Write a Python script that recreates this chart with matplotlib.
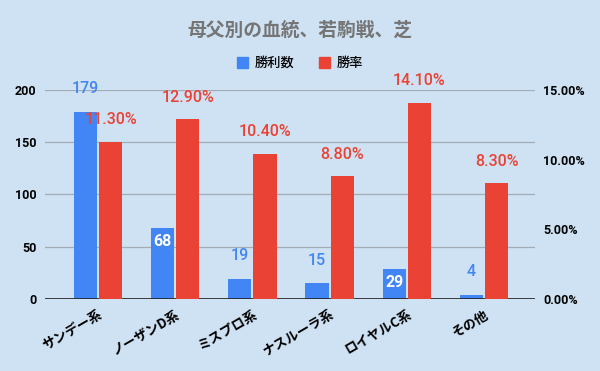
import numpy as np
import matplotlib.pyplot as plt
from matplotlib.ticker import FuncFormatter

plt.rcParams['font.family'] = ['Noto Sans CJK JP', 'DejaVu Sans']
num_font = ['Roboto', 'Noto Sans CJK JP']

categories = ['サンデー系', 'ノーザンD系', 'ミスプロ系', 'ナスルーラ系', 'ロイヤルC系', 'その他']
wins = [179, 68, 19, 15, 29, 4]
rates = [11.30, 12.90, 10.40, 8.80, 14.10, 8.30]
inside_labels = [False, True, False, False, True, False]

bg = '#cfe2f3'
blue = '#4285f4'
red = '#ea4335'

fig = plt.figure(figsize=(6, 3.71), dpi=100, facecolor=bg)
ax = fig.add_axes([45 / 600, 1 - 299 / 371, 490 / 600, 209 / 371])
ax.set_facecolor(bg)
ax2 = ax.twinx()

x = np.arange(len(categories))
w = 0.30
gap = 0.013
ax.bar(x - w / 2 - gap, wins, width=w, color=blue, zorder=3)
ax2.bar(x + w / 2 + gap, rates, width=w, color=red, zorder=3)

ax.set_ylim(0, 200)
ax2.set_ylim(0, 15)
ax.set_xlim(-0.687, 5.66)
ax.set_yticks([0, 50, 100, 150, 200])
ax2.set_yticks([0, 5, 10, 15])
ax2.yaxis.set_major_formatter(FuncFormatter(lambda v, p: f'{v:.2f}%'))

ax.grid(axis='y', color='#a3acb5', linewidth=0.9, zorder=0)
ax.set_axisbelow(True)
for a in (ax, ax2):
    for s in a.spines.values():
        s.set_visible(False)
    a.tick_params(length=0, labelsize=9)
    for lab in a.get_yticklabels():
        lab.set_fontweight('bold')
        lab.set_family(num_font)
ax.axhline(0, color='#222222', linewidth=1.2, zorder=4)
ax.tick_params(axis='y', pad=6)
ax2.tick_params(axis='y', pad=6)

ax.set_xticks(x)
ax.set_xticklabels(categories, rotation=30, ha='right', rotation_mode='anchor',
                   fontsize=9.5, fontweight='bold')
ax.tick_params(axis='x', pad=6)

# data labels
for i, v in enumerate(wins):
    if inside_labels[i]:
        ax.text(x[i] - w / 2 - gap, v - 6, str(v), ha='center', va='top', family=num_font,
                color='white', fontsize=11.5, fontweight='bold', zorder=5)
    else:
        ax.text(x[i] - w / 2 - gap, v + 15, str(v), ha='center', va='bottom', family=num_font,
                color=blue, fontsize=11.5, fontweight='medium', zorder=5, clip_on=False)
for i, r in enumerate(rates):
    ax2.text(x[i] + w / 2 + gap, r + 1.05, f'{r:.2f}%', ha='center', va='bottom',
             family=num_font, color=red, fontsize=11.5, fontweight='medium',
             zorder=5, clip_on=False)

fig.text(0.5, 1 - 30 / 371, '母父別の血統、若駒戦、芝', ha='center', va='center',
         fontsize=13.5, fontweight='bold', color='#757575')

# legend
handles = [plt.Rectangle((0, 0), 1, 1, color=blue), plt.Rectangle((0, 0), 1, 1, color=red)]
fig.legend(handles, ['勝利数', '勝率'], loc='center', bbox_to_anchor=(0.5, 1 - 63 / 371),
           ncol=2, frameon=False, fontsize=9.5, handlelength=0.9, handleheight=0.9,
           handletextpad=0.5, columnspacing=1.8, prop={'weight': 'medium', 'size': 9.5})

fig.savefig('out.png', dpi=100, facecolor=bg)
